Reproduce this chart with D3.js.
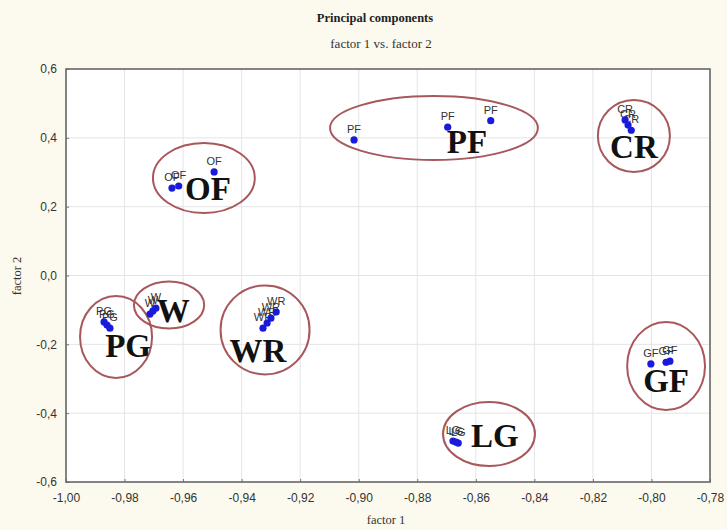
<!DOCTYPE html>
<html><head><meta charset="utf-8">
<script src="https://cdn.jsdelivr.net/npm/d3@7"></script>
<style>
html,body{margin:0;padding:0;background:#fcfaee;}
svg{display:block;}
</style></head>
<body>
<svg id="chart" width="727" height="530"></svg>
<script>
// ---- data ----
const pointGroups = ["OF","OF","OF","PF","PF","PF","CR","CR","CR","PG","PG","PG","W","W","W","WR","WR","WR","WR","LG","LG","LG","GF","GF","GF"];
const factor1 = [-0.9638,-0.9615,-0.9494,-0.9016,-0.8696,-0.8549,-0.8090,-0.8080,-0.8069,-0.9870,-0.9860,-0.9850,-0.9713,-0.9703,-0.9693,-0.9327,-0.9313,-0.9300,-0.9282,-0.8678,-0.8668,-0.8660,-0.8002,-0.7950,-0.7937];
const factor2 = [0.254,0.260,0.301,0.394,0.431,0.450,0.452,0.437,0.422,-0.135,-0.144,-0.153,-0.112,-0.103,-0.095,-0.153,-0.138,-0.124,-0.106,-0.481,-0.484,-0.487,-0.257,-0.252,-0.249];
const clusterNames = ["OF","PF","CR","W","PG","WR","LG","GF"];
const ellipseCx = [-0.9529,-0.8743,-0.8060,-0.9648,-0.9829,-0.9320,-0.8555,-0.7950];
const ellipseCy = [0.2833,0.4286,0.4053,-0.0856,-0.1786,-0.1580,-0.4604,-0.2630];
const ellipseRx = [0.0174,0.0355,0.0123,0.0120,0.0123,0.0152,0.0157,0.0133];
const ellipseRy = [0.1017,0.0930,0.1046,0.0683,0.1191,0.1293,0.0930,0.1279];
const bigLabelX = [-0.9515,-0.8630,-0.8060,-0.9634,-0.9788,-0.9344,-0.8535,-0.7950];
const bigLabelY = [0.219,0.356,0.341,-0.135,-0.237,-0.251,-0.498,-0.338];
const xTicks = [-1.00,-0.98,-0.96,-0.94,-0.92,-0.90,-0.88,-0.86,-0.84,-0.82,-0.80,-0.78];
const yTicks = [0.6,0.4,0.2,0.0,-0.2,-0.4,-0.6];
const titleText = "Principal components";
const subtitleText = "factor 1 vs. factor 2";
const xLabel = "factor 1";
const yLabel = "factor 2";

// ---- layout ----
const L = 66, R = 710, T = 69, B = 482;
const svg = d3.select("#chart");
const x = d3.scaleLinear().domain([-1.00,-0.78]).range([L,R]);
const y = d3.scaleLinear().domain([-0.6,0.6]).range([B,T]);
const fmtX = v => d3.format(".2f")(v).replace("−","-").replace(".",",");
const fmtY = v => d3.format(".1f")(v).replace("−","-").replace(".",",");

svg.append("rect").attr("x",0).attr("y",0).attr("width",727).attr("height",530).attr("fill","#fcfaee");
svg.append("rect").attr("x",L).attr("y",T).attr("width",R-L).attr("height",B-T).attr("fill","#ffffff");

// grid
svg.append("g").selectAll("line").data(xTicks.slice(1,-1)).join("line")
  .attr("x1",d=>x(d)).attr("x2",d=>x(d)).attr("y1",T).attr("y2",B)
  .attr("stroke","#e4e4e4").attr("stroke-width",1);
svg.append("g").selectAll("line").data(yTicks.slice(1,-1)).join("line")
  .attr("y1",d=>y(d)).attr("y2",d=>y(d)).attr("x1",L).attr("x2",R)
  .attr("stroke","#e4e4e4").attr("stroke-width",1);

// axes
const xAxis = d3.axisBottom(x).tickValues(xTicks).tickFormat(fmtX).tickSize(-3).tickPadding(9);
const yAxis = d3.axisLeft(y).tickValues(yTicks).tickFormat(fmtY).tickSize(-3).tickPadding(9);
const gx = svg.append("g").attr("transform",`translate(0,${B})`).call(xAxis);
const gy = svg.append("g").attr("transform",`translate(${L},0)`).call(yAxis);
[gx,gy].forEach(g=>{
  g.select(".domain").remove();
  g.selectAll("line").attr("stroke","#777");
  g.selectAll("text").attr("font-family","Liberation Sans, Arial, sans-serif").attr("font-size",12).attr("fill","#333");
});
gx.selectAll("text").attr("dy","0.9em");
// frame
svg.append("rect").attr("x",L).attr("y",T).attr("width",R-L).attr("height",B-T)
  .attr("fill","none").attr("stroke","#666").attr("stroke-width",1.6);

// titles
svg.append("text").attr("x",375).attr("y",22).attr("text-anchor","middle")
  .attr("font-family","Liberation Serif, Times New Roman, serif").attr("font-weight","bold").attr("font-size",12.5).attr("fill","#222").text(titleText);
svg.append("text").attr("x",381).attr("y",48).attr("text-anchor","middle")
  .attr("font-family","Liberation Serif, Times New Roman, serif").attr("font-size",13).attr("fill","#333").text(subtitleText);
svg.append("text").attr("x",386).attr("y",524).attr("text-anchor","middle")
  .attr("font-family","Liberation Serif, Times New Roman, serif").attr("font-size",12.5).attr("fill","#333").text(xLabel);
svg.append("text").attr("transform","translate(21,276) rotate(-90)").attr("text-anchor","middle")
  .attr("font-family","Liberation Serif, Times New Roman, serif").attr("font-size",12.5).attr("fill","#333").text(yLabel);

// ellipses
const clusters = clusterNames.map((n,i)=>({n,cx:ellipseCx[i],cy:ellipseCy[i],rx:ellipseRx[i],ry:ellipseRy[i],lx:bigLabelX[i],ly:bigLabelY[i]}));
svg.append("g").selectAll("ellipse").data(clusters).join("ellipse")
  .attr("cx",d=>x(d.cx)).attr("cy",d=>y(d.cy))
  .attr("rx",d=>x(d.cx+d.rx)-x(d.cx)).attr("ry",d=>y(d.cy-d.ry)-y(d.cy))
  .attr("fill","none").attr("stroke","#a8585c").attr("stroke-width",2);

// points
const pts = pointGroups.map((g,i)=>({g,x:factor1[i],y:factor2[i]}));
svg.append("g").selectAll("text").data(pts).join("text")
  .attr("x",d=>x(d.x)).attr("y",d=>y(d.y)-7).attr("text-anchor","middle")
  .attr("font-family","Liberation Sans, Arial, sans-serif").attr("font-size",11).attr("fill","#333").text(d=>d.g);
svg.append("g").selectAll("circle").data(pts).join("circle")
  .attr("cx",d=>x(d.x)).attr("cy",d=>y(d.y)).attr("r",3.6).attr("fill","#1a1adb");

// big labels
svg.append("g").selectAll("text").data(clusters).join("text")
  .attr("x",d=>x(d.lx)).attr("y",d=>y(d.ly)).attr("text-anchor","middle")
  .attr("font-family","Liberation Serif, Times New Roman, serif").attr("font-weight","bold").attr("font-size",33).attr("fill","#111").text(d=>d.n);
</script>
</body></html>
